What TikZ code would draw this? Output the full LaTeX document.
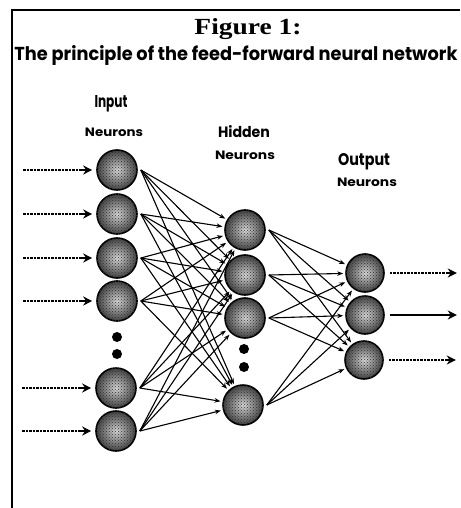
\documentclass[tikz,border=0pt]{standalone}
\usepackage{fontspec}
\setmainfont{Liberation Serif}
\newfontfamily\gothic{Poppins}
\usetikzlibrary{arrows.meta,patterns}
\newcommand\fitbox[3]{\resizebox{#1}{#2}{#3}}
\begin{document}
\begin{tikzpicture}[x=1pt,y=-1pt,
  neuron/.style={circle,minimum size=#1,inner sep=0pt,line width=1.6pt,draw=black,
    shade,inner color=gray!30,outer color=black!75,
    postaction={pattern=crosshatch dots,pattern color=black!80}},
  neuron/.default=40pt,
  blob/.style={circle,fill=black,minimum size=10pt,inner sep=0pt},
  link/.style={line width=1.1pt,-{Stealth[length=6pt,width=4.5pt]},shorten >=2pt},
  dotline/.style={line width=1.5pt,dash pattern=on 2.5pt off 1pt},
  tipline/.style={line width=1.5pt,-{Stealth[length=9pt,width=9pt]}},
  outarrow/.style={line width=1.6pt,-{Stealth[length=9pt,width=9pt]}},
  lbl/.style={inner sep=0pt,font=\gothic\bfseries}
]
\useasboundingbox (0,0) rectangle (460,508);
\fill[white] (0,0) rectangle (460,508);
% frame
\draw[line width=2pt] (12,508) -- (12,10) -- (460,10);
% titles
\node[inner sep=0pt] (fig) at (248,29) {\fitbox{107pt}{16pt}{\bfseries Figure 1:}};
\node[inner sep=0pt,anchor=base] (sub) at (236,61) {\fitbox{443pt}{15pt}{\gothic\bfseries The principle of the feed-forward neural network}};
% layer labels
\node[lbl] (lin) at (111,104) {\fitbox{33pt}{12pt}{Input}};
\node[lbl] (lin2) at (114,132) {\fitbox{58pt}{8.5pt}{Neurons}};
\node[lbl] (lhid) at (244,132) {\fitbox{52pt}{12pt}{Hidden}};
\node[lbl] (lhid2) at (245,155) {\fitbox{60pt}{8.5pt}{Neurons}};
\node[lbl] (lout) at (364,162) {\fitbox{52pt}{12pt}{Output}};
\node[lbl] (lout2) at (367,182) {\fitbox{60pt}{8.5pt}{Neurons}};
% input neurons
\node[neuron] (i1) at (117,170) {};
\node[neuron] (i2) at (117,214) {};
\node[neuron] (i3) at (117,258) {};
\node[neuron] (i4) at (117,301) {};
\node[blob] (id1) at (117,337) {};
\node[blob] (id2) at (117,354) {};
\node[neuron] (i5) at (116,388) {};
\node[neuron] (i6) at (116,431) {};
% hidden neurons
\node[neuron] (h1) at (245,230) {};
\node[neuron] (h2) at (245,275) {};
\node[neuron] (h3) at (245,318) {};
\node[blob] (hd1) at (244,349) {};
\node[blob] (hd2) at (244,367) {};
\node[neuron] (h4) at (243,405) {};
% output neurons
\node[neuron=38pt] (o1) at (365,273) {};
\node[neuron=38pt] (o2) at (365,315) {};
\node[neuron=38pt] (o3) at (364,360) {};
% input arrows
\foreach \n in {i1,i2,i3,i4,i5,i6}{
  \coordinate (s\n) at ([xshift=-73pt]\n.west);
  \coordinate (m\n) at ([xshift=-14pt]\n.west);
  \coordinate (t\n) at ([xshift=-4pt]\n.west);
  \draw[dotline] (s\n) -- (m\n);
  \draw[tipline] (m\n) -- (t\n);
}
% output arrows
\foreach \n in {o1,o3}{
  \coordinate (b\n) at ([xshift=5pt]\n.east);
  \coordinate (m\n) at ([xshift=62pt]\n.east);
  \coordinate (e\n) at ([xshift=72pt]\n.east);
  \draw[dotline] (b\n) -- (m\n);
  \draw[tipline] (m\n) -- (e\n);
}
\coordinate (eo2) at ([xshift=72pt]o2.east);
\draw[outarrow] ([xshift=5pt]o2.east) -- (eo2);
% connections
\foreach \a in {i1,i2,i3,i4,i5,i6}{
  \foreach \b in {h1,h2,h3,h4}{
    \draw[link] ([xshift=3pt]\a.east) -- (\b);
  }
}
\foreach \a in {h1,h2,h3,h4}{
  \foreach \b in {o1,o2,o3}{
    \draw[link] ([xshift=3pt]\a.east) -- (\b);
  }
}
\end{tikzpicture}
\end{document}
